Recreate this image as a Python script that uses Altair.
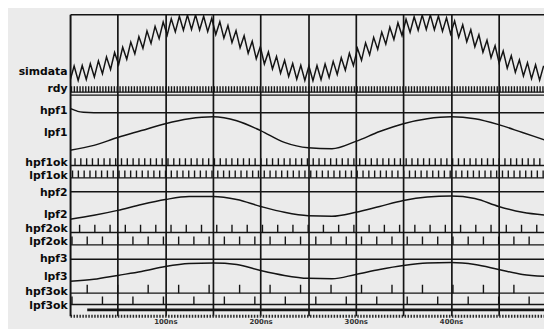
import altair as alt
import pandas as pd

# ---------------- data (times in ns) ----------------
T_END = 497.6

SIM_STEP = 4.25
SIMDATA = [-125, -70, -125, -68, -121, -61, -112, -50, -99, -35,
           -83, -18, -64, 2, -44, 22, -23, 43, -2, 64,
           17, 82, 35, 99, 49, 111, 61, 121, 67, 125,
           70, 126, 68, 121, 62, 113, 51, 100, 37, 85,
           20, 66, 0, 46, -21, 25, -42, 4, -62, -16,
           -81, -33, -97, -48, -110, -60, -120, -67, -125, -70,
           -126, -68, -122, -62, -114, -52, -102, -38, -86, -21,
           -68, -2, -48, 19, -27, 40, -6, 60, 14, 79,
           32, 96, 47, 109, 59, 119, 67, 125, 70, 126,
           69, 122, 63, 115, 53, 103, 40, 88, 23, 69,
           4, 50, -17, 29, -38, 8, -58, -12, -78, -30,
           -94, -46, -108, -57, -118, -65, -124, -69]

ANALOG_T = [0, 25, 50, 75, 100, 125, 150, 175, 200, 225, 250,
            275, 300, 325, 350, 375, 400, 425, 450, 475, 500]
LPF1 = [0, 5, 13, 20, 27, 32, 34, 30, 20, 8, 2.5, 1.5, 9, 19, 27, 32, 34, 32, 26, 18, 10]
LPF2 = [0, 4, 9, 15, 20, 23, 23, 20, 13, 7, 3.5, 3, 7, 13, 19, 22.5, 23.5, 21, 13, 7, 4]
LPF3 = [0, 2, 6, 10, 15, 18, 18.5, 17, 11, 6, 3, 2.5, 7, 12, 16, 18.5, 19, 17, 12, 7, 5]

HPF1_T = [0, 4, 8, 14, 25, 500]
HPF1 = [4.5, 3, 1.5, 0.5, 0, 0]
HPF2_T = [0, 500]
HPF2 = [0, 0]
HPF3_T = [0, 500]
HPF3 = [0, 0]

RDY_T = [1.5, 4.5, 7.5, 10.5, 13.5, 16.5, 19.5, 22.5, 25.5, 28.5,
         31.5, 34.5, 37.5, 40.5, 43.5, 46.5, 49.5, 52.5, 55.5, 58.5,
         61.5, 64.5, 67.5, 70.5, 73.5, 76.5, 79.5, 82.5, 85.5, 88.5,
         91.5, 94.5, 97.5, 100.5, 103.5, 106.5, 109.5, 112.5, 115.5, 118.5,
         121.5, 124.5, 127.5, 130.5, 133.5, 136.5, 139.5, 142.5, 145.5, 148.5,
         151.5, 154.5, 157.5, 160.5, 163.5, 166.5, 169.5, 172.5, 175.5, 178.5,
         181.5, 184.5, 187.5, 190.5, 193.5, 196.5, 199.5, 202.5, 205.5, 208.5,
         211.5, 214.5, 217.5, 220.5, 223.5, 226.5, 229.5, 232.5, 235.5, 238.5,
         241.5, 244.5, 247.5, 250.5, 253.5, 256.5, 259.5, 262.5, 265.5, 268.5,
         271.5, 274.5, 277.5, 280.5, 283.5, 286.5, 289.5, 292.5, 295.5, 298.5,
         301.5, 304.5, 307.5, 310.5, 313.5, 316.5, 319.5, 322.5, 325.5, 328.5,
         331.5, 334.5, 337.5, 340.5, 343.5, 346.5, 349.5, 352.5, 355.5, 358.5,
         361.5, 364.5, 367.5, 370.5, 373.5, 376.5, 379.5, 382.5, 385.5, 388.5,
         391.5, 394.5, 397.5, 400.5, 403.5, 406.5, 409.5, 412.5, 415.5, 418.5,
         421.5, 424.5, 427.5, 430.5, 433.5, 436.5, 439.5, 442.5, 445.5, 448.5,
         451.5, 454.5, 457.5, 460.5, 463.5, 466.5, 469.5, 472.5, 475.5, 478.5,
         481.5, 484.5, 487.5, 490.5, 493.5, 496.5]

HPF1OK_T = [5.2, 11.3, 17.4, 23.5, 29.6, 35.7, 41.8, 47.9, 54.0, 60.1,
            66.2, 72.3, 78.4, 84.5, 90.6, 96.7, 102.8, 108.9, 115.0, 121.1,
            127.2, 133.3, 139.4, 145.5, 151.6, 157.7, 163.8, 169.9, 176.0, 182.1,
            188.2, 194.3, 200.4, 206.5, 212.6, 218.7, 224.8, 230.9, 237.0, 243.1,
            249.2, 255.3, 261.4, 267.5, 273.6, 279.7, 285.8, 291.9, 298.0, 304.1,
            310.2, 316.3, 322.4, 328.5, 334.6, 340.7, 346.8, 352.9, 359.0, 365.1,
            371.2, 377.3, 383.4, 389.5, 395.6, 401.7, 407.8, 413.9, 420.0, 426.1,
            432.2, 438.3, 444.4, 450.5, 456.6, 462.7, 468.8, 474.9, 481.0, 487.1, 493.2]
LPF1OK_T = [2.6, 8.7, 14.8, 20.9, 27.0, 33.1, 39.2, 45.3, 51.4, 57.5,
            63.6, 69.7, 75.8, 81.9, 88.0, 94.1, 100.2, 106.3, 112.4, 118.5,
            124.6, 130.7, 136.8, 142.9, 149.0, 155.1, 161.2, 167.3, 173.4, 179.5,
            185.6, 191.7, 197.8, 203.9, 210.0, 216.1, 222.2, 228.3, 234.4, 240.5,
            246.6, 252.7, 258.8, 264.9, 271.0, 277.1, 283.2, 289.3, 295.4, 301.5,
            307.6, 313.7, 319.8, 325.9, 332.0, 338.1, 344.2, 350.3, 356.4, 362.5,
            368.6, 374.7, 380.8, 386.9, 393.0, 399.1, 405.2, 411.3, 417.4, 423.5,
            429.6, 435.7, 441.8, 447.9, 454.0, 460.1, 466.2, 472.3, 478.4, 484.5,
            490.6, 496.7]
HPF2OK_T = [10, 26, 42, 58, 74, 90, 106, 122, 138, 154, 170, 186, 202, 218, 234, 250,
            266, 282, 298, 314, 330, 346, 362, 378, 394, 410, 426, 442, 458, 474, 490]
LPF2OK_T = [2, 18, 34, 50, 66, 82, 98, 114, 130, 146, 162, 178, 194, 210, 226, 242,
            258, 274, 290, 306, 322, 338, 354, 370, 386, 402, 418, 434, 450, 466, 482]
HPF3OK_T = [18, 50, 82, 114, 146, 178, 210, 242, 274, 306, 338, 370, 402, 434, 466]
LPF3OK_T = [2, 34, 66, 98, 130, 162, 194, 226, 258, 290, 322, 354, 386, 418, 450, 482]

BUS_START = 18

# ---------------- layout (plot units, 0 = top of plot) ----------------
ROW = {
    "simdata": dict(base=34, gain=0.265, label=58),
    "rdy": dict(base=79, height=6, label=75.5),
    "hpf1": dict(base=100, gain=1, label=98),
    "lpf1": dict(base=138, gain=1, label=120.5),
    "hpf1ok": dict(base=153.5, height=7.5, label=150),
    "lpf1ok": dict(base=166, height=7.5, label=163.5),
    "hpf2": dict(base=180, gain=1, label=180.5),
    "lpf2": dict(base=208, gain=1, label=203),
    "hpf2ok": dict(base=221.5, height=8, label=217.5),
    "lpf2ok": dict(base=234, height=8.5, label=231),
    "hpf3": dict(base=248.5, gain=1, label=248),
    "lpf3": dict(base=271, gain=1, label=266),
    "hpf3ok": dict(base=283, height=8.5, label=281.5),
    "lpf3ok": dict(base=294.5, height=8, label=295.5),
}
SEPARATOR_Y = 82
BUS_Y = 300
PLOT_W, PLOT_H = 481, 306
INK = "#141414"

# ---------------- tables ----------------
sim_rows = [dict(sig="simdata", t=k * SIM_STEP,
                 y=ROW["simdata"]["base"] - v * ROW["simdata"]["gain"])
            for k, v in enumerate(SIMDATA)]
sim_df = pd.DataFrame(sim_rows)

analog_rows = []
for name, ts, vals in [("hpf1", HPF1_T, HPF1), ("lpf1", ANALOG_T, LPF1),
                       ("hpf2", HPF2_T, HPF2), ("lpf2", ANALOG_T, LPF2),
                       ("hpf3", HPF3_T, HPF3), ("lpf3", ANALOG_T, LPF3)]:
    for t, v in zip(ts, vals):
        analog_rows.append(dict(sig=name, t=t, y=ROW[name]["base"] - v * ROW[name]["gain"]))
analog_df = pd.DataFrame(analog_rows)

pulse_rows, base_rows = [], []
for name, times in [("rdy", RDY_T), ("hpf1ok", HPF1OK_T), ("lpf1ok", LPF1OK_T),
                    ("hpf2ok", HPF2OK_T), ("lpf2ok", LPF2OK_T),
                    ("hpf3ok", HPF3OK_T), ("lpf3ok", LPF3OK_T)]:
    b, h = ROW[name]["base"], ROW[name]["height"]
    base_rows.append(dict(sig=name, t=0, t2=T_END, y=b))
    for t in times:
        pulse_rows.append(dict(sig=name, t=t, y=b, y2=b - h))
base_rows.append(dict(sig="sep", t=0, t2=T_END, y=SEPARATOR_Y))
pulse_df = pd.DataFrame(pulse_rows)
base_df = pd.DataFrame(base_rows)
bus_df = pd.DataFrame([dict(t=BUS_START, t2=T_END, y=BUS_Y)])

# ---------------- scales & axes ----------------
XS = alt.Scale(domain=[0, T_END], nice=False, zero=False)
YS = alt.Scale(domain=[0, PLOT_H], reverse=True, nice=False, zero=False)

label_expr = " : ".join(f"datum.value == {r['label']} ? '{n}'" for n, r in ROW.items()) + " : ''"
YAX = alt.Axis(values=[r["label"] for r in ROW.values()], labelExpr=label_expr,
               grid=False, ticks=False, domain=True, domainColor=INK, domainWidth=2,
               labelFont="DejaVu Sans", labelFontSize=11, labelFontWeight="bold",
               labelColor="#0a0a0a", labelPadding=3, labelOverlap=False, labelBound=False,
               labelBaseline="middle", title=None)
X_BOTTOM = alt.Axis(orient="bottom", values=[50, 100, 150, 200, 250, 300, 350, 400, 450, 500],
                    labelExpr="datum.value % 100 == 0 ? datum.value + 'ns' : ''",
                    grid=True, gridColor=INK, gridWidth=1.7, ticks=False,
                    domain=True, domainColor="#2a2a2a", domainWidth=3, domainDash=[1.5, 1.5],
                    labelFont="DejaVu Sans", labelFontSize=7, labelFontWeight="bold",
                    labelColor="#333", labelPadding=2, labelOverlap=False,
                    labelFlush=False, labelBound=False, title=None)
X_TOP = alt.Axis(orient="top", labels=False, ticks=False, grid=False, domain=True,
                 domainColor=INK, domainWidth=1.6, title=None)


def Y():
    return alt.Y("y:Q", scale=YS, axis=YAX)


sim_layer = alt.Chart(sim_df).mark_line(color=INK, strokeWidth=1.5, clip=True).encode(
    x=alt.X("t:Q", scale=XS, axis=X_BOTTOM), y=Y(), detail="sig:N")
analog_layer = alt.Chart(analog_df).mark_line(color=INK, strokeWidth=1.5, clip=True,
                                              interpolate="monotone").encode(
    x=alt.X("t:Q", scale=XS, axis=X_TOP), y=Y(), detail="sig:N")
base_layer = alt.Chart(base_df).mark_rule(color=INK, strokeWidth=1.4, clip=True).encode(
    x=alt.X("t:Q", scale=XS, axis=None), x2="t2:Q", y=Y())
pulse_layer = alt.Chart(pulse_df).mark_rule(color=INK, strokeWidth=1.4, clip=True).encode(
    x=alt.X("t:Q", scale=XS, axis=None), y=Y(), y2="y2:Q")
bus_layer = alt.Chart(bus_df).mark_rule(color=INK, strokeWidth=2.8, clip=True).encode(
    x=alt.X("t:Q", scale=XS, axis=None), x2="t2:Q", y=Y())

chart = alt.layer(sim_layer, analog_layer, base_layer, pulse_layer, bus_layer).resolve_axis(
    x="independent"
).properties(
    width=PLOT_W, height=PLOT_H,
    autosize=alt.AutoSizeParams(type="none"),
    padding={"left": 63, "top": 4, "right": 0, "bottom": 11},
    background="#ebebeb",
).configure_view(stroke=None)

chart.save("out.html", embed_options={"renderer": "svg", "actions": False})
